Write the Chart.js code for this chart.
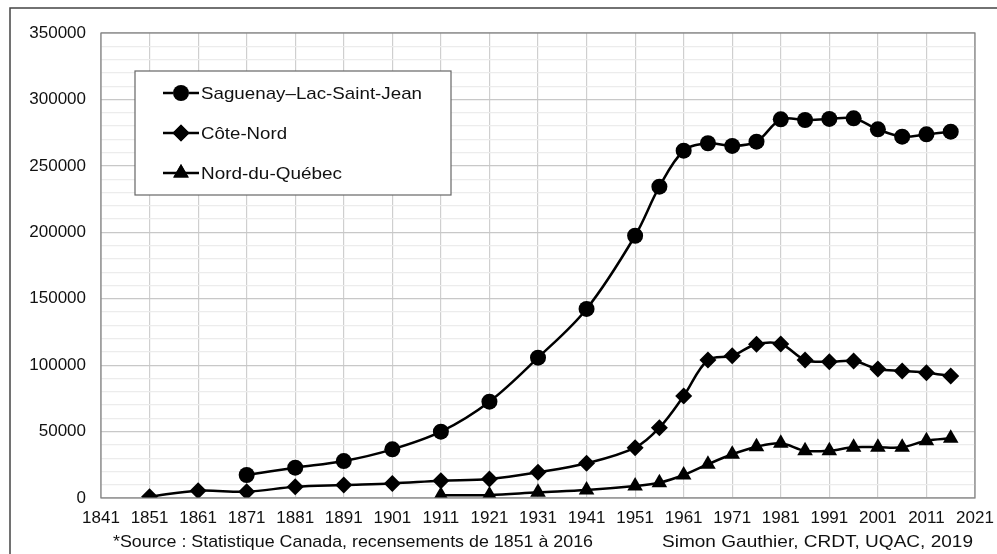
<!DOCTYPE html>
<html>
<head>
<meta charset="utf-8">
<script src="https://cdn.jsdelivr.net/npm/chart.js@4.4.0/dist/chart.umd.min.js"></script>
<style>
  html, body { margin: 0; padding: 0; background: #fff; }
  #wrap { width: 997px; height: 554px; position: relative; }
</style>
</head>
<body>
<div id="wrap"><canvas id="myChart" width="997" height="554"></canvas></div>
<script>
// census years
var yearsSaguenay = [1871, 1881, 1891, 1901, 1911, 1921, 1931, 1941, 1951, 1956, 1961, 1966, 1971, 1976, 1981, 1986, 1991, 1996, 2001, 2006, 2011, 2016];
var yearsCoteNord = [1851, 1861, 1871, 1881, 1891, 1901, 1911, 1921, 1931, 1941, 1951, 1956, 1961, 1966, 1971, 1976, 1981, 1986, 1991, 1996, 2001, 2006, 2011, 2016];
var yearsNordQc = [1911, 1921, 1931, 1941, 1951, 1956, 1961, 1966, 1971, 1976, 1981, 1986, 1991, 1996, 2001, 2006, 2011, 2016];

// population
var popSaguenay = [17300, 22800, 27800, 36600, 49900, 72500, 105600, 142300, 197400, 234300, 261400, 267000, 265000, 268200, 285000, 284500, 285300, 285800, 277500, 272000, 273700, 275700];
var popCoteNord = [1000, 5500, 4700, 8500, 9800, 11000, 13000, 14300, 19300, 26100, 37900, 52900, 76800, 103900, 107100, 115700, 115900, 103900, 102600, 103100, 97100, 95600, 94300, 91800];
var popNordQc = [2000, 2300, 4300, 6000, 9000, 11500, 17300, 25400, 32900, 38600, 41200, 35600, 35600, 38200, 38200, 38200, 43100, 44900];

var seriesNames = ['Saguenay\u2013Lac-Saint-Jean', 'C\u00f4te-Nord', 'Nord-du-Qu\u00e9bec'];
var sourceText = '*Source : Statistique Canada, recensements de 1851 \u00e0 2016';
var authorText = 'Simon Gauthier, CRDT, UQAC, 2019';

function toPoints(xs, ys) {
  var out = [];
  for (var i = 0; i < xs.length; i++) out.push({ x: xs[i], y: ys[i] });
  return out;
}

var FONT = '"Liberation Sans", Arial, sans-serif';

function makeSet(label, xs, ys, style, r) {
  return {
    label: label,
    data: toPoints(xs, ys),
    borderColor: '#000',
    backgroundColor: '#000',
    borderWidth: 2.5,
    pointStyle: style,
    pointRadius: r,
    pointHoverRadius: r,
    pointBorderWidth: 0,
    tension: 0.35
  };
}

// text stretched horizontally to a given width (the source picture is widened)
function wideText(ctx, txt, x, y, w) {
  var m = ctx.measureText(txt).width;
  ctx.save();
  ctx.translate(x, y);
  ctx.scale(w / m, 1);
  ctx.fillText(txt, 0, 0);
  ctx.restore();
}

// frame, plot border, legend box and footer texts
var decor = {
  id: 'decor',
  beforeDraw: function (chart) {
    var ctx = chart.ctx;
    ctx.save();
    ctx.fillStyle = '#fff';
    ctx.fillRect(0, 0, chart.width, chart.height);
    ctx.restore();
  },
  afterDraw: function (chart) {
    var ctx = chart.ctx, a = chart.chartArea;
    ctx.save();
    // outer frame
    ctx.strokeStyle = '#444';
    ctx.lineWidth = 1.5;
    ctx.beginPath();
    ctx.moveTo(10, chart.height);
    ctx.lineTo(10, 8);
    ctx.lineTo(chart.width, 8);
    ctx.stroke();
    // plot border
    ctx.strokeStyle = '#808080';
    ctx.lineWidth = 1.2;
    ctx.strokeRect(a.left, a.top, a.right - a.left, a.bottom - a.top);

    // legend
    var lx = 135, ly = 71, lw = 316, lh = 124;
    ctx.fillStyle = '#fff';
    ctx.fillRect(lx, ly, lw, lh);
    ctx.strokeStyle = '#666';
    ctx.lineWidth = 1.2;
    ctx.strokeRect(lx, ly, lw, lh);
    ctx.font = '17px ' + FONT;
    ctx.textBaseline = 'middle';
    var widths = [221, 86, 141];
    chart.data.datasets.forEach(function (ds, i) {
      var cy = ly + 22 + i * 40;
      ctx.strokeStyle = '#000';
      ctx.lineWidth = 2.5;
      ctx.beginPath();
      ctx.moveTo(163, cy);
      ctx.lineTo(199, cy);
      ctx.stroke();
      Chart.helpers.drawPoint(ctx, { pointStyle: ds.pointStyle, radius: ds.pointRadius, borderWidth: 0 }, 181, cy);
      ctx.fillStyle = '#000';
      ctx.fill();
      ctx.fillStyle = '#111';
      wideText(ctx, ds.label, 201, cy + 1, widths[i]);
    });

    // footer
    ctx.font = '17px ' + FONT;
    ctx.fillStyle = '#111';
    ctx.textAlign = 'left';
    wideText(ctx, sourceText, 113, 542, 480);
    wideText(ctx, authorText, 662, 542, 311);
    ctx.restore();
  }
};

var ctx = document.getElementById('myChart').getContext('2d');
var myChart = new Chart(ctx, {
  type: 'line',
  data: {
    datasets: [
      makeSet(seriesNames[0], yearsSaguenay, popSaguenay, 'circle', 8),
      makeSet(seriesNames[1], yearsCoteNord, popCoteNord, 'rectRot', 8.5),
      makeSet(seriesNames[2], yearsNordQc, popNordQc, 'triangle', 9)
    ]
  },
  options: {
    responsive: false,
    animation: false,
    layout: { padding: { left: 0, top: 33, right: 22, bottom: 0 } },
    plugins: {
      legend: { display: false },
      tooltip: { enabled: false }
    },
    scales: {
      x: {
        type: 'linear',
        min: 1841,
        max: 2021,
        ticks: {
          stepSize: 10,
          color: '#111',
          font: { family: FONT, size: 17 },
          padding: 10,
          maxRotation: 0,
          autoSkip: false,
          callback: function (v) { return String(v); }
        },
        grid: { color: '#cfcfcf', lineWidth: 1.2, drawTicks: false },
        border: { display: false },
        afterFit: function (s) { s.height = 56; s.paddingLeft = 0; s.paddingRight = 0; }
      },
      y: {
        min: 0,
        max: 350000,
        ticks: {
          stepSize: 10000,
          color: '#111',
          font: { family: FONT, size: 17 },
          padding: 15,
          autoSkip: false,
          callback: function (v) { return v % 50000 === 0 ? String(v) : ''; }
        },
        grid: {
          drawTicks: false,
          lineWidth: 1.2,
          color: function (c) { return c.tick && c.tick.value % 50000 === 0 ? '#c8c8c8' : '#ececec'; }
        },
        border: { display: false },
        afterFit: function (s) { s.width = 101; s.paddingTop = 0; s.paddingBottom = 0; }
      }
    }
  },
  plugins: [decor]
});
</script>
</body>
</html>
